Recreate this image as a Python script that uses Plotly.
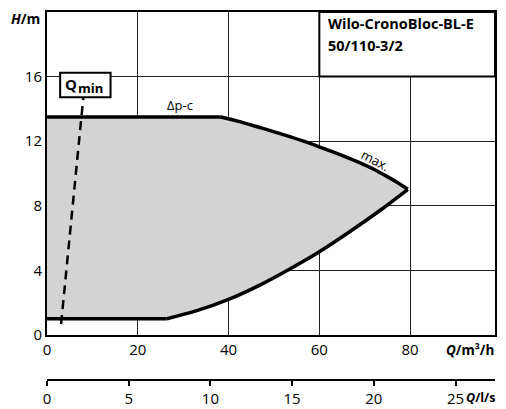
import plotly.graph_objects as go

# ---- data ----
flat_top_q = [0, 38.3]
flat_top_h = [13.5, 13.5]
max_q = [38.3, 42, 46.7, 51, 56.2, 60, 64, 68.6, 72, 74.5, 77, 79.5]
max_h = [13.5, 13.24, 12.86, 12.5, 12.03, 11.65, 11.23, 10.7, 10.26, 9.88, 9.47, 9.02]
flat_low_q = [0, 26.4]
flat_low_h = [1.0, 1.0]
sys_q = [26.4, 33, 40, 47, 53.3, 60, 67, 73.8, 79.5]
sys_h = [1.0, 1.5, 2.2, 3.1, 4.05, 5.15, 6.45, 7.8, 9.02]
qmin_q = [3.1, 8.0]
qmin_h = [0.67, 14.7]

x_ticks_m3h = [0, 20, 40, 60, 80]
x_ticks_ls = [0, 5, 10, 15, 20, 25]
y_ticks = [0, 4, 8, 12, 16]
title_lines = ["Wilo-CronoBloc-BL-E", "50/110-3/2"]

FONT = "Open Sans"
TICK = 15
XMAX = 98.7  # visible width of the Q axis (page body margin eats the last few px)

fig = go.Figure()

upper_q = flat_top_q + max_q[1:]
upper_h = flat_top_h + max_h[1:]
lower_q = flat_low_q + sys_q[1:]
lower_h = flat_low_h + sys_h[1:]

# filled operating region
fig.add_trace(go.Scatter(
    x=upper_q + lower_q[::-1], y=upper_h + lower_h[::-1],
    fill="toself", fillcolor="#d3d3d3", line=dict(width=0),
    mode="lines", hoverinfo="skip", showlegend=False))
for xs, ys, shp in [(flat_top_q, flat_top_h, "linear"), (max_q, max_h, "spline"),
                    (flat_low_q, flat_low_h, "linear"), (sys_q, sys_h, "spline")]:
    fig.add_trace(go.Scatter(x=xs, y=ys, mode="lines",
                             line=dict(color="black", width=3.5, shape=shp),
                             hoverinfo="skip", showlegend=False))
fig.add_trace(go.Scatter(x=qmin_q, y=qmin_h, mode="lines",
                         line=dict(color="black", width=2.5, dash="9px,6px"),
                         hoverinfo="skip", showlegend=False))
# invisible trace for the l/s axis
fig.add_trace(go.Scatter(x=[0, 25], y=[-5, -5], xaxis="x2", yaxis="y",
                         mode="markers", marker=dict(opacity=0),
                         hoverinfo="skip", showlegend=False))

fig.update_layout(
    width=490, height=401,
    margin=dict(l=39, r=1, t=4, b=24),
    paper_bgcolor="white", plot_bgcolor="white",
    font=dict(family=FONT, size=14, color="black"),
    xaxis=dict(range=[0, XMAX], tickvals=x_ticks_m3h, showgrid=True,
               gridcolor="#222", gridwidth=1, zeroline=False,
               showline=True, linecolor="black", linewidth=2, mirror=True,
               ticks="", anchor="y", tickfont=dict(size=TICK)),
    xaxis2=dict(range=[0, XMAX / 3.6], tickvals=x_ticks_ls, overlaying="x",
                anchor="free", position=0, side="bottom", showgrid=False,
                zeroline=False, showline=True, linecolor="black", linewidth=2,
                ticks="outside", ticklen=5, tickwidth=1.5, tickcolor="black",
                tickfont=dict(size=TICK)),
    yaxis=dict(range=[0, 20], tickvals=y_ticks, domain=[0.1225, 1],
               showgrid=True, gridcolor="#222", gridwidth=1, zeroline=False,
               showline=True, linecolor="black", linewidth=2, mirror=True,
               ticks="", tickfont=dict(size=TICK)),
)

# title box and Qmin box
fig.add_shape(type="rect", x0=60, x1=XMAX, y0=16, y1=20, xref="x", yref="y",
              fillcolor="white", line=dict(color="black", width=2), layer="above")
fig.add_shape(type="rect", x0=2.9, x1=14.0, y0=14.72, y1=16.23, xref="x", yref="y",
              fillcolor="white", line=dict(color="black", width=2), layer="above")

fig.add_annotation(x=61.4, y=19.28, xref="x", yref="y", text="<b>" + title_lines[0] + "</b>",
                   showarrow=False, xanchor="left", yanchor="middle", font=dict(size=14.5))
fig.add_annotation(x=61.4, y=17.94, xref="x", yref="y", text="<b>" + title_lines[1] + "</b>",
                   showarrow=False, xanchor="left", yanchor="middle", font=dict(size=14.5))
fig.add_annotation(x=5.2, y=15.55, xref="x", yref="y", text="<b>Q</b>",
                   showarrow=False, xanchor="center", yanchor="middle", font=dict(size=15))
fig.add_annotation(x=9.6, y=15.3, xref="x", yref="y", text="<b>min</b>",
                   showarrow=False, xanchor="center", yanchor="middle", font=dict(size=13))
fig.add_annotation(x=29.2, y=14.27, xref="x", yref="y", text="Δp-c",
                   showarrow=False, font=dict(size=13))
fig.add_annotation(x=72.3, y=10.86, xref="x", yref="y", text="max.", textangle=28,
                   showarrow=False, font=dict(size=13))
fig.add_annotation(x=0, y=19.59, xref="paper", yref="y", text="<b><i>H</i>/m</b>",
                   showarrow=False, xanchor="right", yanchor="middle", xshift=-5,
                   font=dict(size=14))
fig.add_annotation(x=1, y=0.0804, xref="paper", yref="paper", text="<b><i>Q</i>/m³/h</b>",
                   showarrow=False, xanchor="right", yanchor="middle", xshift=1,
                   font=dict(size=13.5))
fig.add_annotation(x=1, y=-0.048, xref="paper", yref="paper", text="<b><i>Q</i>/l/s</b>",
                   showarrow=False, xanchor="right", yanchor="middle", xshift=2,
                   font=dict(size=12.5))

fig.write_html("out.html")
